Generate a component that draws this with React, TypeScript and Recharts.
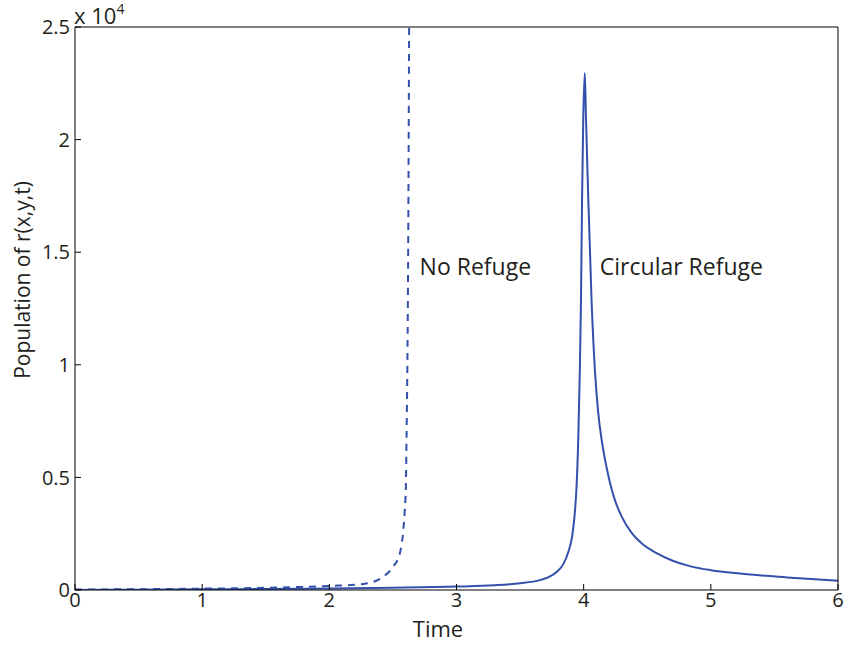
import React from 'react';
import { LineChart, Line, XAxis, YAxis, Label, ReferenceDot } from 'recharts';

// Circular refuge (solid line)
const circularT = [0, 0.5, 1, 1.5, 2, 2.5, 3, 3.3, 3.5, 3.656, 3.72, 3.79, 3.84, 3.88, 3.91, 3.93, 3.945, 3.958, 3.97, 3.978, 3.988, 3.997, 4.009, 4.018, 4.035, 4.062, 4.088, 4.114, 4.146, 4.18, 4.21, 4.245, 4.3, 4.376, 4.46, 4.573, 4.7, 4.835, 5.0, 5.228, 5.6, 6.0];
const circularPop = [5, 15, 30, 45, 70, 100, 150, 210, 300, 440, 560, 810, 1150, 1700, 2400, 3400, 4700, 6800, 9800, 12500, 17600, 21000, 22960, 21000, 17600, 12880, 9800, 7900, 6500, 5450, 4700, 4000, 3250, 2550, 2050, 1640, 1300, 1060, 880, 730, 560, 410];

// No refuge (dashed line) - blows up before t = 2.7
const noRefugeT = [0, 0.5, 1, 1.5, 2, 2.27, 2.42, 2.5, 2.555, 2.6, 2.607, 2.62, 2.628];
const noRefugePop = [20, 35, 60, 100, 180, 270, 580, 1020, 1640, 4220, 6660, 15100, 26000];

const xTicks = [0, 1, 2, 3, 4, 5, 6];
const yTicks = [0, 5000, 10000, 15000, 20000, 25000];

const circularData = circularT.map((t, i) => ({ t, pop: circularPop[i] }));
const noRefugeData = noRefugeT.map((t, i) => ({ t, pop: noRefugePop[i] }));

const FONT = '"Open Sans", sans-serif';
const TEXT = '#231f20';
const BLUE = '#3350ab';

const tickStyle = { fontSize: 20, fill: TEXT, fontFamily: FONT };
const noteStyle = { fontSize: 23, fill: TEXT, fontFamily: FONT };

export default function App() {
  return (
    <div style={{ position: 'absolute', left: 0, top: 0, background: '#fff' }}>
      <LineChart width={849} height={645} margin={{ top: 0, right: 0, left: 0, bottom: 0 }}>
        <XAxis
          dataKey="t"
          type="number"
          domain={[0, 6]}
          ticks={xTicks}
          height={55}
          tickSize={-6}
          tickMargin={9}
          tick={tickStyle}
          stroke="#000"
          allowDataOverflow
        >
          <Label
            content={() => (
              <text x={438} y={637} textAnchor="middle" fontSize={22} fill={TEXT} fontFamily={FONT}>
                Time
              </text>
            )}
          />
        </XAxis>
        <XAxis
          xAxisId="top"
          orientation="top"
          type="number"
          dataKey="t"
          domain={[0, 6]}
          ticks={xTicks}
          height={27}
          tickSize={-6}
          tick={false}
          stroke="#000"
        >
          <Label
            content={() => (
              <text x={74} y={24} fontSize={22} fill={TEXT} fontFamily={FONT}>
                x 10<tspan dy={-10} fontSize={14}>4</tspan>
              </text>
            )}
          />
        </XAxis>
        <YAxis
          type="number"
          domain={[0, 25000]}
          ticks={yTicks}
          width={75}
          tickSize={-6}
          tickMargin={11}
          tick={tickStyle}
          tickFormatter={(v: number) => String(v / 10000)}
          stroke="#000"
          allowDataOverflow
        >
          <Label
            content={() => (
              <text
                x={30}
                y={280}
                transform="rotate(-90, 30, 280)"
                textAnchor="middle"
                fontSize={21}
                fill={TEXT}
                fontFamily={FONT}
              >
                Population of r(x,y,t)
              </text>
            )}
          />
        </YAxis>
        <YAxis
          yAxisId="right"
          orientation="right"
          type="number"
          domain={[0, 25000]}
          ticks={yTicks}
          width={11}
          tickSize={-6}
          tick={false}
          stroke="#000"
        />
        <Line
          data={noRefugeData}
          dataKey="pop"
          type="monotone"
          stroke={BLUE}
          strokeWidth={2}
          strokeDasharray="7 6"
          dot={false}
          isAnimationActive={false}
        />
        <Line
          data={circularData}
          dataKey="pop"
          type="monotone"
          stroke={BLUE}
          strokeWidth={2}
          dot={false}
          isAnimationActive={false}
        />
        <ReferenceDot
          x={2.71}
          y={14340}
          r={0}
          fill="none"
          stroke="none"
          label={{ value: 'No Refuge', position: 'right', offset: 0, ...noteStyle }}
        />
        <ReferenceDot
          x={4.127}
          y={14340}
          r={0}
          fill="none"
          stroke="none"
          label={{ value: 'Circular Refuge', position: 'right', offset: 0, ...noteStyle }}
        />
      </LineChart>
    </div>
  );
}
